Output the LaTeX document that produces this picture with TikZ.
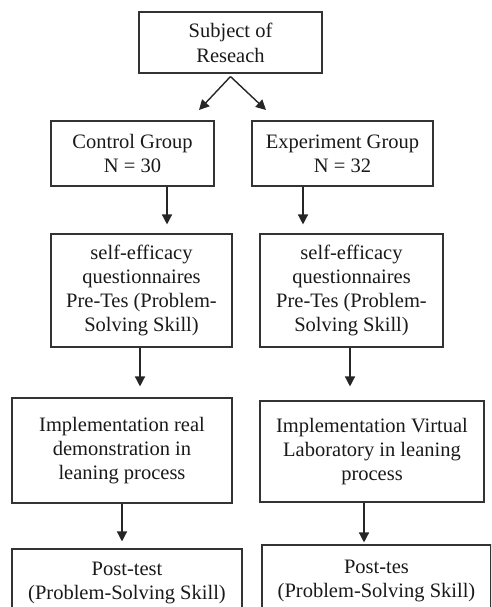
\documentclass[tikz,border=0pt]{standalone}
\usepackage{fontspec}
\setmainfont{Liberation Serif}
\usetikzlibrary{arrows.meta}
\tikzset{
  box/.style={draw=black!80, line width=1.1pt, align=center, text=black!90,
    inner sep=0pt, font=\fontsize{20.5}{24}\selectfont},
  arr/.style={draw=black!85, line width=1.4pt, -{Triangle[length=10pt,width=10pt]}}
}
\begin{document}
\begin{tikzpicture}[x=1pt, y=-1pt]
  \useasboundingbox (0,0) rectangle (491,607);
  \clip (0,0) rectangle (491,607);
  % top
  \node[box, minimum width=183pt, minimum height=61pt] (subj) at (230.5,42.5) {Subject of\\[1pt]Reseach};
  % groups
  \node[box, minimum width=163pt, minimum height=65pt] (ctrl) at (132.5,153.5) {Control Group\\N = 30};
  \node[box, minimum width=181pt, minimum height=65pt] (expt) at (342.5,153.5) {Experiment Group\\N = 32};
  \coordinate (tipL) at (199,110);
  \coordinate (tipR) at (266,110);
  \draw[arr] ([yshift=-3pt]subj.south) -- (tipL);
  \draw[arr] ([yshift=-3pt]subj.south) -- (tipR);
  % pre-test
  \node[box, minimum width=181pt, minimum height=113pt] (selfL) at (141.5,290.5)
    {self-efficacy\\questionnaires\\Pre-Tes (Problem-\\Solving Skill)};
  \node[box, minimum width=183pt, minimum height=113pt] (selfR) at (351.5,290.5)
    {self-efficacy\\questionnaires\\Pre-Tes (Problem-\\Solving Skill)};
  \draw[arr, shorten >=9pt] ([xshift=34.5pt]ctrl.south) -- ([xshift=34.5pt]ctrl.south |- selfL.north);
  \draw[arr, shorten >=9pt] ([xshift=-39.5pt]expt.south) -- ([xshift=-39.5pt]expt.south |- selfR.north);
  % treatment
  \node[box, minimum width=220pt, minimum height=105pt] (implL) at (122,450.5)
    {Implementation real\\demonstration in\\leaning process};
  \node[box, minimum width=224pt, minimum height=101pt] (implR) at (372,451.5)
    {Implementation Virtual\\Laboratory in leaning\\process};
  \draw[arr, shorten >=11pt] ([xshift=-1.5pt]selfL.south) -- ([xshift=-1.5pt]selfL.south |- implL.north);
  \draw[arr, shorten >=14pt] ([xshift=-1.5pt]selfR.south) -- ([xshift=-1.5pt]selfR.south |- implR.north);
  % post-test
  \node[box, minimum width=230pt, minimum height=68pt] (postL) at (127,583)
    {Post-test\\(Problem-Solving Skill)};
  \node[box, minimum width=229pt, minimum height=72pt] (postR) at (376.5,581)
    {Post-tes\\(Problem-Solving Skill)};
  \draw[arr, shorten >=7pt] (implL.south) -- (implL.south |- postL.north);
  \draw[arr, shorten >=2pt] ([xshift=-8pt]implR.south) -- ([xshift=-8pt]implR.south |- postR.north);
\end{tikzpicture}
\end{document}
